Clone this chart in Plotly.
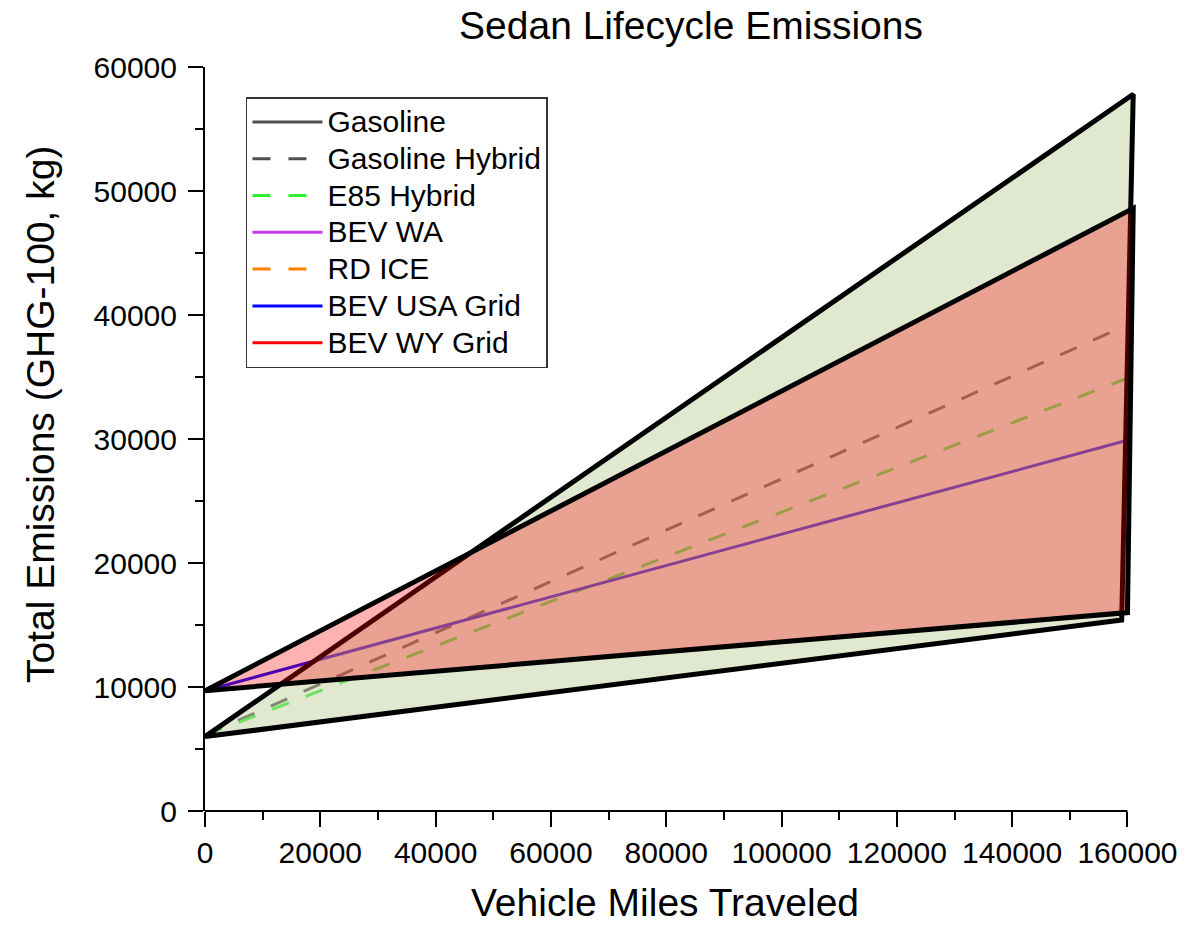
import plotly.graph_objects as go

# ---- data ----
gasoline_miles = [0, 161000]
gasoline_ghg = [6000, 57800]
gas_hybrid_miles = [0, 160000]
gas_hybrid_ghg = [6100, 39200]
e85_hybrid_miles = [0, 160000]
e85_hybrid_ghg = [6100, 34900]
bev_wa_miles = [0, 160000]
bev_wa_ghg = [9700, 16000]
rd_ice_miles = [0, 159000]
rd_ice_ghg = [6000, 15400]
bev_usa_miles = [0, 160000]
bev_usa_ghg = [9700, 29900]
bev_wy_miles = [0, 161000]
bev_wy_ghg = [9700, 48600]

x_ticks = list(range(0, 160001, 20000))
y_ticks = list(range(0, 60001, 10000))

FONT = "Arial, Liberation Sans, sans-serif"

fig = go.Figure()

def line(x, y, name, color, dash, rank):
    fig.add_trace(go.Scatter(
        x=x, y=y, mode="lines", legendrank=rank,
        name='<span style="font-size:30px">' + name + '</span>',
        line=dict(color=color, width=3, dash=dash)))

# lines (drawn below the translucent envelopes)
line(gasoline_miles, gasoline_ghg, "Gasoline", "#505050", "solid", 1)
line(rd_ice_miles, rd_ice_ghg, "RD ICE", "#ff8000", "18px,18px", 5)
line(gas_hybrid_miles, gas_hybrid_ghg, "Gasoline Hybrid", "#505050", "18px,18px", 2)
line(e85_hybrid_miles, e85_hybrid_ghg, "E85 Hybrid", "#33f033", "18px,18px", 3)
line(bev_usa_miles, bev_usa_ghg, "BEV USA Grid", "#0000ff", "solid", 6)
line(bev_wa_miles, bev_wa_ghg, "BEV WA", "#c23cf0", "solid", 4)
line(bev_wy_miles, bev_wy_ghg, "BEV WY Grid", "#ff0000", "solid", 7)

# envelope: gasoline (upper) to RD ICE (lower)
env1_x = gasoline_miles + rd_ice_miles[::-1] + gasoline_miles[:1]
env1_y = gasoline_ghg + rd_ice_ghg[::-1] + gasoline_ghg[:1]
fig.add_trace(go.Scatter(
    x=env1_x, y=env1_y, mode="lines", fill="toself",
    fillcolor="rgba(186,204,150,0.45)",
    line=dict(color="black", width=5), showlegend=False, hoverinfo="skip"))

# envelope: BEV WY (upper) to BEV WA (lower)
env2_x = bev_wy_miles + bev_wa_miles[::-1] + bev_wy_miles[:1]
env2_y = bev_wy_ghg + bev_wa_ghg[::-1] + bev_wy_ghg[:1]
fig.add_trace(go.Scatter(
    x=env2_x, y=env2_y, mode="lines", fill="toself",
    fillcolor="rgba(255,0,0,0.3)",
    line=dict(color="black", width=5), showlegend=False, hoverinfo="skip"))

W, H = 1187, 926
L, R, T, B = 205, 47.5, 67, 115
pw = W - L - R
ph = H - T - B

def px_x(p):
    return (p - L) / pw

def px_y(p):
    return (H - B - p) / ph

fig.update_layout(
    width=W, height=H,
    margin=dict(l=L, r=R, t=T, b=B, autoexpand=False),
    paper_bgcolor="white", plot_bgcolor="white",
    font=dict(family=FONT, color="black"),
    title=dict(text="Sedan Lifecycle Emissions", font=dict(size=39, family=FONT, color="black"),
               x=691 / W, xanchor="center", xref="container", y=1 - 25 / H, yanchor="middle", yref="container"),
    legend=dict(x=px_x(246), y=px_y(97), xanchor="left", yanchor="top",
                bgcolor="white", bordercolor="#333333", borderwidth=1.5,
                font=dict(size=26, family=FONT, color="black"),
                itemwidth=70, tracegroupgap=0),
    showlegend=True,
)

fig.update_xaxes(
    range=[0, 162000], tickvals=x_ticks, ticktext=[str(v) for v in x_ticks],
    showline=False, showgrid=False, zeroline=False, automargin=False,
    ticks="outside", ticklen=15, tickwidth=2, tickcolor="black",
    tickfont=dict(size=30, family=FONT, color="black"),
    minor=dict(tickvals=list(range(10000, 160000, 20000)), ticks="outside", ticklen=8, tickwidth=2, tickcolor="black"),
)
fig.update_yaxes(
    range=[0, 60000], tickvals=y_ticks, ticktext=[str(v) for v in y_ticks],
    showline=True, linecolor="black", linewidth=2, showgrid=False, zeroline=False, automargin=False,
    ticks="outside", ticklen=15, tickwidth=2, tickcolor="black", ticklabelstandoff=5,
    tickfont=dict(size=30, family=FONT, color="black"),
    minor=dict(tickvals=list(range(5000, 60000, 10000)), ticks="outside", ticklen=8, tickwidth=2, tickcolor="black"),
)

# x axis line spanning 0..160000
fig.add_shape(type="line", xref="x", yref="paper", x0=x_ticks[0], x1=x_ticks[-1], y0=0, y1=0,
              line=dict(color="black", width=2), layer="above")

fig.add_annotation(text="Vehicle Miles Traveled", xref="paper", yref="paper",
                   x=px_x(665), y=px_y(926), xanchor="center", yanchor="bottom",
                   showarrow=False, font=dict(size=39, family=FONT, color="black"))
fig.add_annotation(text="Total Emissions (GHG-100, kg)", xref="paper", yref="paper",
                   x=px_x(40), y=px_y(414), xanchor="center", yanchor="middle", textangle=-90,
                   showarrow=False, font=dict(size=39, family=FONT, color="black"))

fig.write_html("out.html")
